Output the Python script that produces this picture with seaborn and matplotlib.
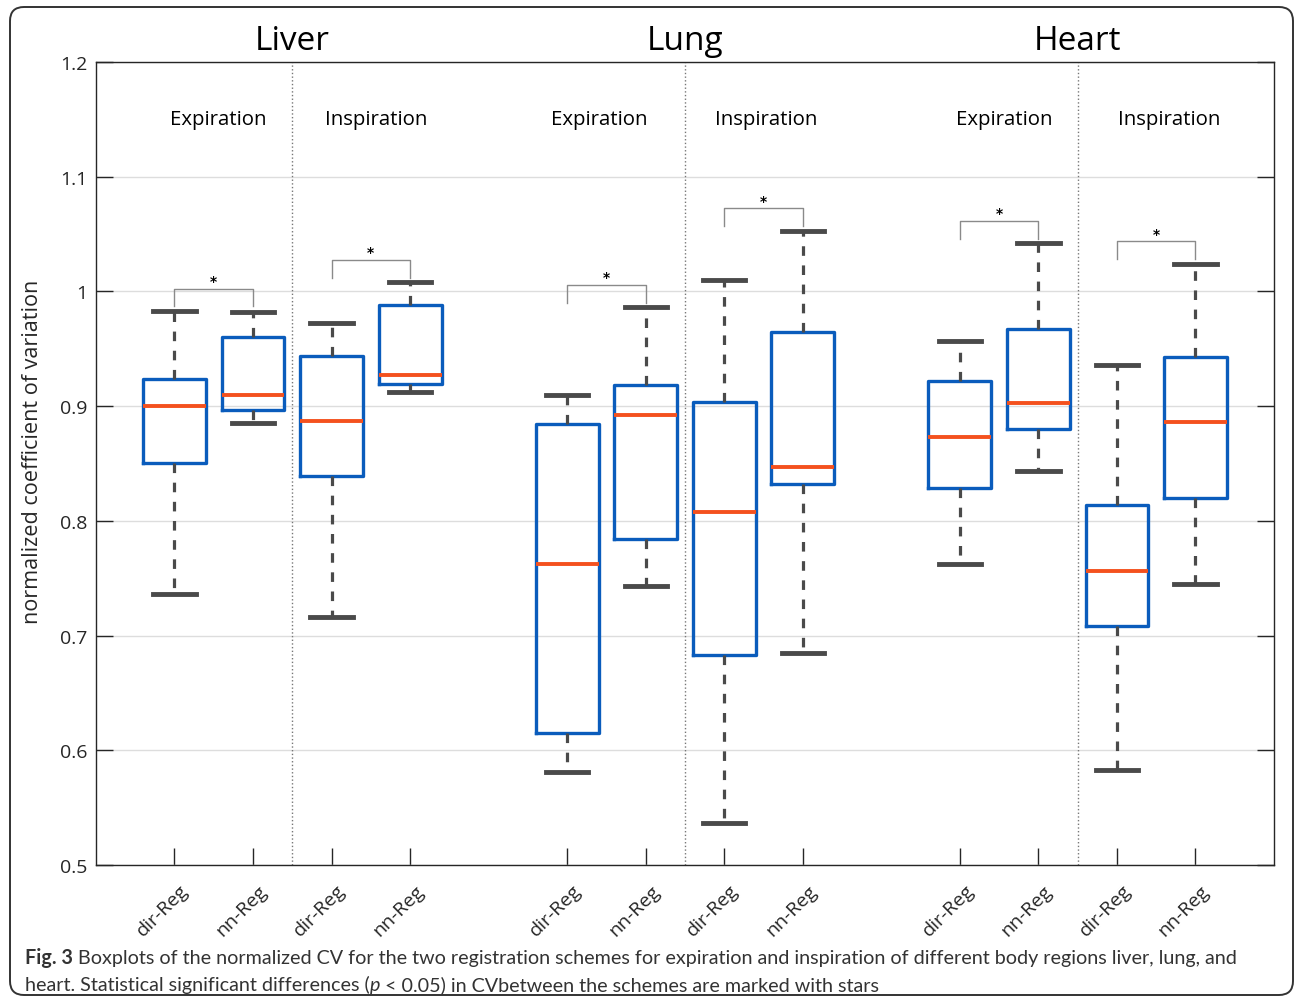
import numpy as np
import pandas as pd
import seaborn as sns
import matplotlib.pyplot as plt
from matplotlib.patches import FancyBboxPatch
from matplotlib.transforms import ScaledTranslation

regions = ["Liver", "Lung", "Heart"]
phases = ["Expiration", "Inspiration", "Expiration", "Inspiration", "Expiration", "Inspiration"]
tick_labels = ["dir-Reg", "nn-Reg"] * 6
positions = [1, 2, 3, 4, 6, 7, 8, 9, 11, 12, 13, 14]

# five-number summaries
whisker_low = [0.736, 0.885, 0.716, 0.912, 0.581, 0.743, 0.537, 0.685, 0.762, 0.843, 0.583, 0.745]
q1 = [0.850, 0.897, 0.839, 0.919, 0.615, 0.784, 0.683, 0.832, 0.829, 0.880, 0.708, 0.820]
median = [0.900, 0.910, 0.887, 0.927, 0.762, 0.892, 0.808, 0.847, 0.873, 0.903, 0.756, 0.886]
q3 = [0.924, 0.960, 0.944, 0.988, 0.884, 0.918, 0.904, 0.965, 0.922, 0.967, 0.814, 0.943]
whisker_high = [0.983, 0.982, 0.972, 1.008, 0.910, 0.986, 1.010, 1.053, 0.957, 1.042, 0.936, 1.024]

sig_pairs = [(0, 1), (2, 3), (4, 5), (6, 7), (8, 9), (10, 11)]
phase_x = [1.56, 3.57, 6.41, 8.54, 11.57, 13.66]
region_x = [2.5, 7.5, 12.5]
dividers = [2.5, 7.5, 12.5]
yticks = [0.5, 0.6, 0.7, 0.8, 0.9, 1.0, 1.1, 1.2]
ytick_labels = ["0.5", "0.6", "0.7", "0.8", "0.9", "1", "1.1", "1.2"]

rows = []
for i, p in enumerate(positions):
    for v in (whisker_low[i], q1[i], median[i], q3[i], whisker_high[i]):
        rows.append({"pos": p, "value": v})
df = pd.DataFrame(rows)

plt.rcParams['font.family'] = ['Open Sans', 'DejaVu Sans']
blue = "#0a5cbc"
orange = "#f4511e"
dark = "#4a4a4a"
txt = "#262626"

fig = plt.figure(figsize=(12.95, 10.04), dpi=100)
ax = fig.add_axes([0.0741, 0.1375, 0.9097, 0.7998])

ax.grid(axis="y", color="#dddddd", linewidth=1)
ax.set_axisbelow(True)
for d in dividers:
    ax.axvline(d, color="#777777", linestyle=":", linewidth=1, zorder=1)

sns.boxplot(data=df, x="pos", y="value", native_scale=True, orient="x", fill=False,
            color=blue, width=0.8, whis=(0, 100), linewidth=2.4, showfliers=False,
            capwidths=0.54,
            medianprops=dict(color=orange, linewidth=2.8),
            whiskerprops=dict(color=dark, linestyle=(0, (3, 3)), linewidth=2.3),
            capprops=dict(color=dark, linewidth=3.5),
            ax=ax)

# significance brackets
for a, b in sig_pairs:
    top = max(whisker_high[a], whisker_high[b]) + 0.0195
    xa, xb = positions[a], positions[b]
    ax.plot([xa, xa, xb, xb], [top - 0.0155, top, top, top - 0.0155],
            color="#8a8a8a", linewidth=1, zorder=3)
    ax.text((xa + xb) / 2, top + 0.0005, "*", ha="center", va="bottom",
            fontsize=10, color="black", family="DejaVu Sans", weight="bold")

for x, lab in zip(phase_x, phases):
    ax.text(x, 1.150, lab, ha="center", va="center", fontsize=14.7, color="black")
for x, lab in zip(region_x, regions):
    ax.text(x, 1.219, lab, ha="center", va="center", fontsize=24, color="black", clip_on=False)

ax.set_xlim(0, 15)
ax.set_ylim(0.5, 1.2)
ax.set_yticks(yticks)
ax.set_yticklabels(ytick_labels)
ax.set_xticks(positions)
ax.set_xticklabels(tick_labels, rotation=45, ha="right", va="center", rotation_mode="anchor")
ax.tick_params(axis="both", direction="in", length=12, width=1, colors="#262626",
               labelsize=14, labelcolor=txt)
ax.tick_params(axis="y", right=True, pad=6)
ax.tick_params(axis="x", pad=16)
off = ScaledTranslation(11 / 100, 0, fig.dpi_scale_trans)
for lab in ax.get_xticklabels():
    lab.set_transform(lab.get_transform() + off)
for s in ax.spines.values():
    s.set_visible(True)
    s.set_color("#262626")
    s.set_linewidth(1)

ax.set_xlabel("")
ax.set_ylabel("normalized coefficient of variation", fontsize=15.6, color=txt)
ax.yaxis.set_label_coords(-0.045, 0.5156)

# caption
cap_font = ['Lato', 'DejaVu Sans']
fig.canvas.draw()
renderer = fig.canvas.get_renderer()

def segments(y, parts, x0=25):
    x = x0
    for s, kw in parts:
        t = fig.text(x / 1295, y, s, fontsize=14.2, color="#333333", family=cap_font,
                     va="baseline", **kw)
        bb = t.get_window_extent(renderer)
        x = bb.x1

segments(1 - 964 / 1004, [("Fig. 3", dict(weight="bold")),
                          (" Boxplots of the normalized CV for the two registration schemes for expiration and inspiration of different body regions liver, lung, and", {})])
segments(1 - 991 / 1004, [("heart. Statistical significant differences (", {}),
                          ("p", dict(style="italic")),
                          (" < 0.05) in CVbetween the schemes are marked with stars", {})])

border = FancyBboxPatch((10, 8), 1283, 988, boxstyle="round,pad=0,rounding_size=14",
                        transform=None, fill=False, edgecolor="#333333", linewidth=1.4)
fig.patches.append(border)

fig.savefig("out.png", dpi=100)
